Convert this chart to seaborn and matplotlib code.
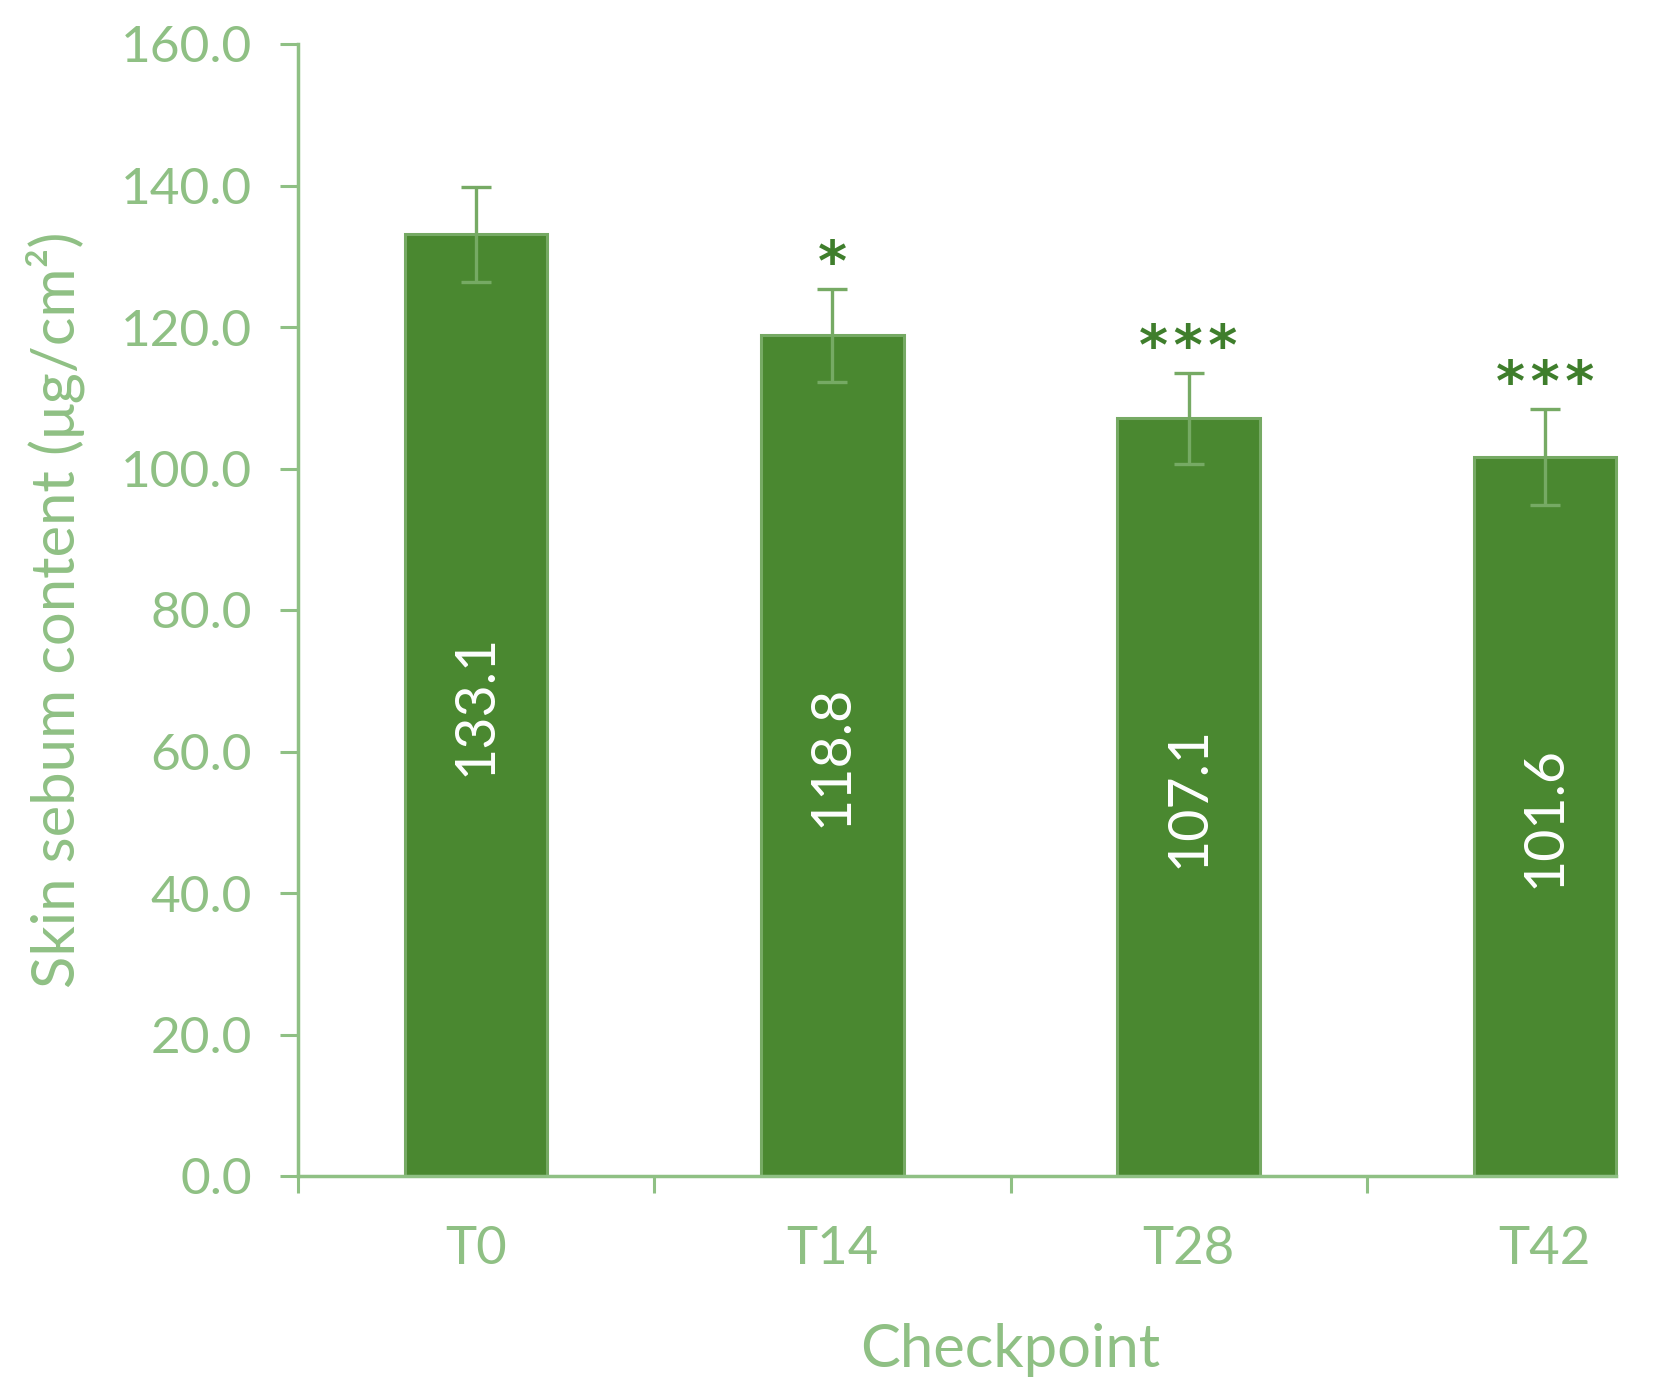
import numpy as np
import seaborn as sns
import matplotlib.pyplot as plt

# --- data ---
checkpoints = ["T0", "T14", "T28", "T42"]
means = [133.1, 118.8, 107.1, 101.6]
errors = [6.7, 6.6, 6.4, 6.8]
stars = ["", "*", "***", "***"]
yticks = [0, 20, 40, 60, 80, 100, 120, 140, 160]

# --- colors ---
bar_fill = "#4a8830"
bar_edge = "#76aa64"
axis_col = "#8fc084"
text_col = "#8fc084"
star_col = "#3f7e2c"

sns.set_style("white")
plt.rcParams["font.family"] = ["Lato", "DejaVu Sans"]

W, H = 1655, 1397
fig = plt.figure(figsize=(W / 100, H / 100), dpi=100)
# axes reaches past the right edge (reference is cropped there)
ax = fig.add_axes([298 / W, (H - 1176) / H, (1723 - 298) / W, (1176 - 44) / H])

sns.barplot(x=checkpoints, y=means, color=bar_fill, width=0.4,
            edgecolor=bar_edge, linewidth=2.2, saturation=1, ax=ax)
for p in ax.patches:
    p.set_facecolor(bar_fill)

ax.errorbar(range(len(means)), means, yerr=errors, fmt="none",
            ecolor=bar_edge, elinewidth=2.4, capsize=11, capthick=2.4)

# values inside bars
for i, v in enumerate(means):
    ax.text(i, v / 2, f"{v:.1f}", rotation=90, ha="center", va="center",
            color="white", fontsize=40)

# significance stars
for i, s in enumerate(stars):
    if s:
        ax.text(i, means[i] + errors[i] + 3.4, "\u200a".join(s),
                ha="center", va="center", color=star_col, fontsize=40,
                fontweight="bold", family="DejaVu Sans")

ax.set_ylim(0, 160)
ax.set_xlim(-0.5, 3.5)
ax.set_yticks(yticks)
ax.set_yticklabels([f"{t:.1f}" for t in yticks])

# category separator ticks
ax.set_xticks([-0.5, 0.5, 1.5, 2.5], minor=True)
ax.tick_params(axis="x", which="major", bottom=True, length=0, pad=36,
               labelsize=38, labelcolor=text_col)
ax.tick_params(axis="x", which="minor", bottom=True, length=12, width=2.2,
               color=axis_col, direction="out")
ax.tick_params(axis="y", left=True, length=13, width=2.2, color=axis_col,
               direction="out", pad=20, labelsize=37, labelcolor=text_col)

for side in ["top", "right"]:
    ax.spines[side].set_visible(False)
for side in ["left", "bottom"]:
    ax.spines[side].set_color(axis_col)
    ax.spines[side].set_linewidth(2.5)
ax.spines["bottom"].set_bounds(-0.5, 3.2)

ax.set_ylabel("Skin sebum content (μg/cm²)", fontsize=43, color=text_col,
              labelpad=26)
ax.set_xlabel("Checkpoint", fontsize=43, color=text_col, labelpad=36)
ax.set_facecolor("white")

plt.savefig("out.png", dpi=100)
